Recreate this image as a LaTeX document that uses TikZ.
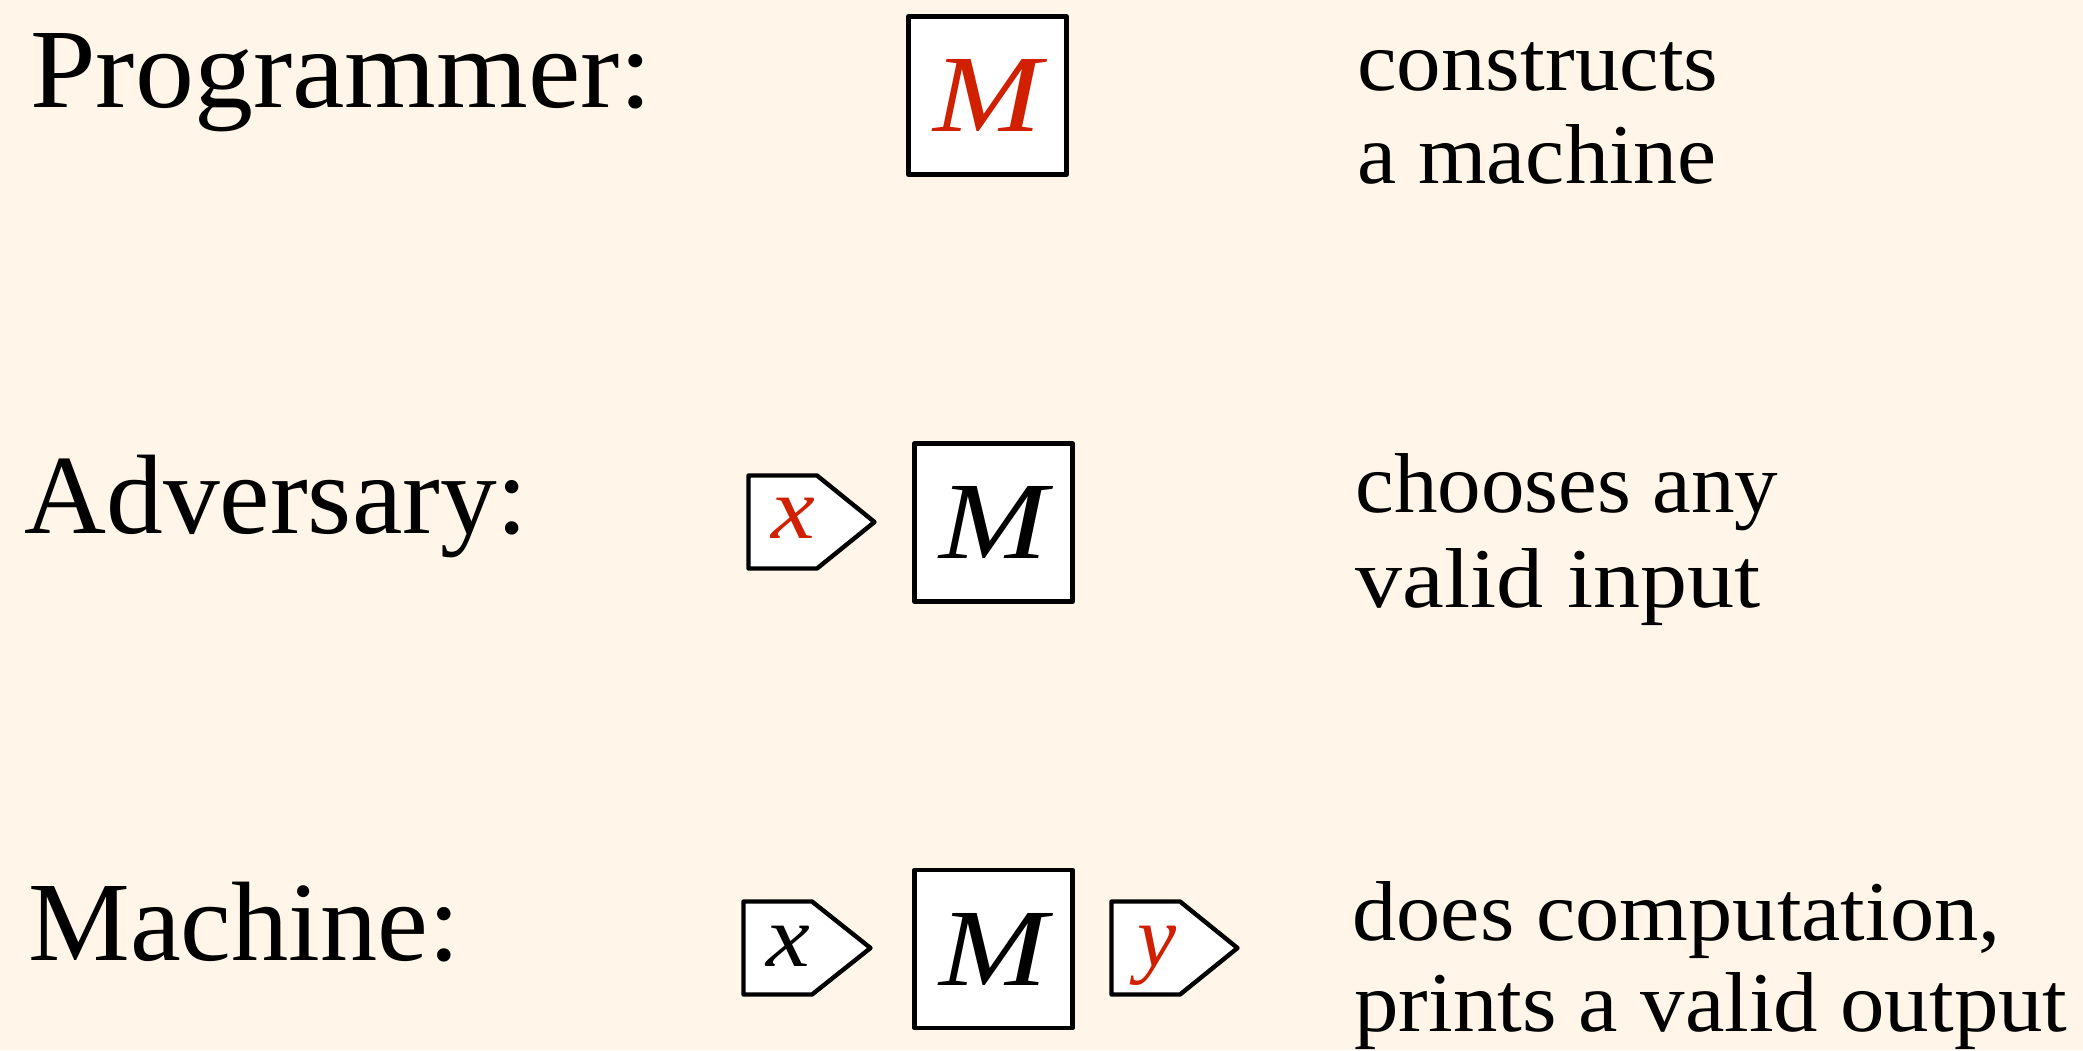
\documentclass[tikz,border=0pt]{standalone}
\usepackage{fontspec}
\setmainfont{Liberation Serif}
\usepackage{graphicx}
\definecolor{bg}{RGB}{255,246,233}
\definecolor{redM}{RGB}{208,32,0}
\newcommand{\fitw}[2]{\resizebox{#1}{\height}{#2}}
\begin{document}
\begin{tikzpicture}[x=0.5pt,y=-0.5pt,
  lbl/.style={anchor=base west, inner sep=0, font=\fontsize{56.5}{60}\selectfont},
  desc/.style={anchor=base west, inner sep=0, font=\fontsize{42.5}{46}\selectfont},
  mbox/.style={draw, fill=white, line width=2.35pt, line join=round, minimum width=79pt, minimum height=79pt, inner sep=0, font=\fontsize{55}{60}\selectfont\itshape},
  tagtxt/.style={anchor=base, inner sep=0, font=\fontsize{44}{48}\selectfont\itshape},
  tagline/.style={draw, fill=white, line width=2.2pt, line join=round}]
\fill[bg] (0,0) rectangle (2083,1050);
\useasboundingbox (0,0) rectangle (2083,1050);
% left labels
\node[lbl] (prog) at (30,107) {\fitw{311pt}{Programmer:}};
\node[lbl] (adv) at (24,533) {\fitw{252pt}{Adversary:}};
\node[lbl] (mach) at (28,960) {\fitw{216pt}{Machine:}};
% descriptions
\node[desc] (d1a) at (1357,90) {\fitw{180.5pt}{constructs}};
\node[desc] (d1b) at (1357,183) {\fitw{179.5pt}{a machine}};
\node[desc] (d2a) at (1355,512) {\fitw{211.5pt}{chooses any}};
\node[desc] (d2b) at (1355,607) {\fitw{202.5pt}{valid input}};
\node[desc] (d3a) at (1352,940) {\fitw{324pt}{does computation,}};
\node[desc] (d3b) at (1354,1031) {\fitw{356.5pt}{prints a valid output}};
% machines
\node[mbox, text=redM] (m1) at (987.5,95.5) {\scalebox{1.18}[1]{M}};
\node[mbox] (m2) at (993.5,522.5) {\scalebox{1.18}[1]{M}};
\node[mbox] (m3) at (993.5,949) {\scalebox{1.18}[1]{M}};
% tags
\draw[tagline] (748.5,475.5) -- (817,475.5) -- (874.5,522) -- (817,568.5) -- (748.5,568.5) -- cycle;
\node[tagtxt, text=redM] (x2) at (793.5,538) {\scalebox{1.12}[1]{x}};
\draw[tagline] (743.5,901.5) -- (812,901.5) -- (870.5,948) -- (812,994.5) -- (743.5,994.5) -- cycle;
\node[tagtxt] (x3) at (788,966) {\scalebox{1.12}[1]{x}};
\draw[tagline] (1111.5,901.5) -- (1180,901.5) -- (1237.5,948) -- (1180,994.5) -- (1111.5,994.5) -- cycle;
\node[tagtxt, text=redM] (y3) at (1157,966) {y};
\end{tikzpicture}
\end{document}
